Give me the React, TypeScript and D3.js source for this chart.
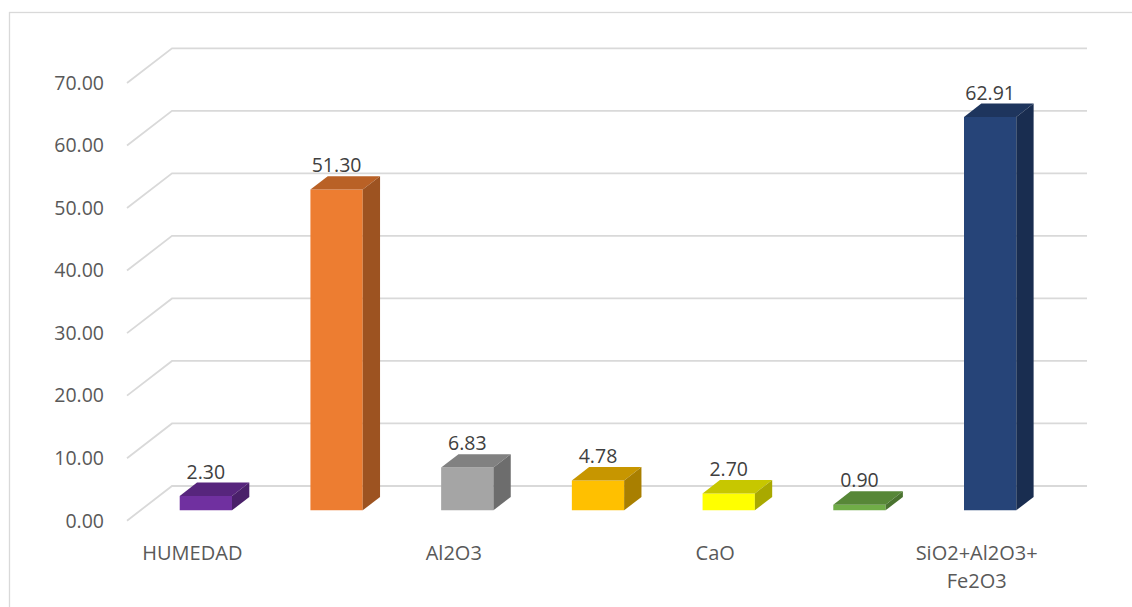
import React from "react";
import * as d3 from "d3";

const categories = ["HUMEDAD", "SiO2", "Al2O3", "Fe2O3", "CaO", "MgO", "SiO2+Al2O3+Fe2O3"];
const values = [2.3, 51.3, 6.83, 4.78, 2.7, 0.9, 62.91];
const shownLabels: string[][] = [["HUMEDAD"], [], ["Al2O3"], [], ["CaO"], [], ["SiO2+Al2O3+", "Fe2O3"]];
const frontColors = ["#7030A0", "#ED7D31", "#A5A5A5", "#FFC000", "#FFFF00", "#70AD47", "#264478"];
const yTicks = [0, 10, 20, 30, 40, 50, 60, 70];

const W = 1132;
const H = 607;
const DX = 45;
const DY = -34.7;
const BAR_D0 = 0.3;
const BAR_D1 = 0.685;
const FONT = "'Open Sans', 'Noto Sans', sans-serif";

export default function App() {
  const x = d3.scaleBand<string>().domain(categories).range([127, 1042]).paddingInner(0.6).paddingOuter(0.3);
  const y = d3.scaleLinear().domain([0, 70]).range([520.7, 83]);
  const bw = x.bandwidth();
  const step = x.step();
  const P = (px: number, py: number, d: number) => [px + d * DX, py + d * DY];
  const pts = (arr: number[][]) => arr.map((p) => p.join(",")).join(" ");

  return (
    <svg width={W} height={H} style={{ position: "absolute", left: 0, top: 0, background: "#fff" }}>
      <rect x={9.5} y={12.5} width={1300} height={800} fill="#fff" stroke="#d9d9d9" strokeWidth={1.3} />
      {yTicks.map((t) => {
        const a = P(127, y(t), 0);
        const b = P(127, y(t), 1);
        return (
          <g key={t}>
            <polyline
              points={pts([a, b, [1087, b[1]]])}
              fill="none"
              stroke="#d9d9d9"
              strokeWidth={1.8}
            />
            <text
              x={104}
              y={y(t)}
              dy="0.35em"
              textAnchor="end"
              fontFamily={FONT}
              fontSize={19.5}
              fill="#595959"
            >
              {t.toFixed(2)}
            </text>
          </g>
        );
      })}
      {categories.map((c, i) => {
        const x0 = x(c)!;
        const x1 = x0 + bw;
        const y0 = y(0);
        const y1 = y(values[i]);
        const front = [P(x0, y1, BAR_D0), P(x1, y1, BAR_D0), P(x1, y0, BAR_D0), P(x0, y0, BAR_D0)];
        const top = [P(x0, y1, BAR_D0), P(x0, y1, BAR_D1), P(x1, y1, BAR_D1), P(x1, y1, BAR_D0)];
        const side = [P(x1, y1, BAR_D0), P(x1, y1, BAR_D1), P(x1, y0, BAR_D1), P(x1, y0, BAR_D0)];
        const base = d3.color(frontColors[i])!;
        const topCol = d3.rgb(base).darker(0.7).formatHex();
        const sideCol = d3.rgb(base).darker(1.15).formatHex();
        const labelX = P(x0 + bw / 2, y1, BAR_D0)[0];
        const labelY = P(x0, y1, BAR_D1)[1] - 4;
        return (
          <g key={c}>
            <polygon points={pts(front)} fill={frontColors[i]} />
            <polygon points={pts(top)} fill={topCol} />
            <polygon points={pts(side)} fill={sideCol} />
            <text
              x={labelX}
              y={labelY}
              textAnchor="middle"
              fontFamily={FONT}
              fontSize={19.5}
              fill="#404040"
            >
              {values[i].toFixed(2)}
            </text>
          </g>
        );
      })}
      {categories.map((c, i) =>
        shownLabels[i].length ? (
          <text
            key={"l" + c}
            x={127 + step * (i + 0.5)}
            y={553}
            textAnchor="middle"
            fontFamily={FONT}
            fontSize={20}
            fill="#595959"
          >
            {shownLabels[i].map((s, k) => (
              <tspan key={k} x={127 + step * (i + 0.5)} dy={k === 0 ? "0.35em" : 28}>
                {s}
              </tspan>
            ))}
          </text>
        ) : null
      )}
    </svg>
  );
}
